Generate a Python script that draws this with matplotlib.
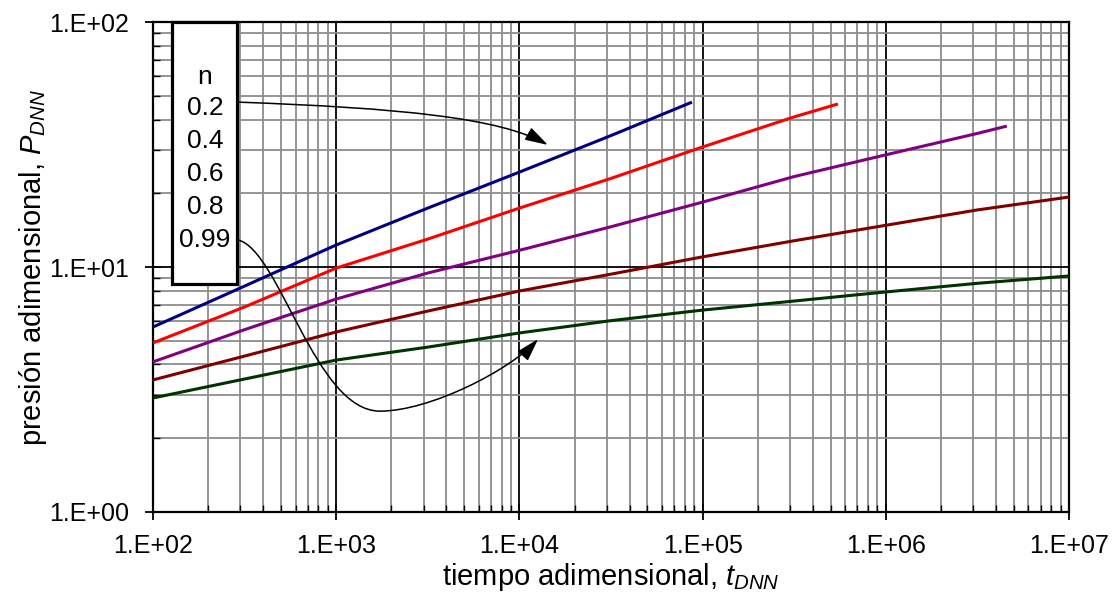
#!/usr/bin/env python3

import numpy as np
from matplotlib import pyplot as plt
from matplotlib.patches import FancyArrowPatch, Rectangle
from matplotlib.path import Path
from matplotlib.ticker import FuncFormatter, LogLocator, NullFormatter

plt.rcParams["font.family"] = ["Liberation Sans", "DejaVu Sans"]
plt.rcParams["mathtext.fontset"] = "custom"
plt.rcParams["mathtext.rm"] = "Liberation Sans"
plt.rcParams["mathtext.it"] = "Liberation Sans:italic"

# flow behaviour index of each curve
n_values = ["0.2", "0.4", "0.6", "0.8", "0.99"]
colors = ["#000080", "#ff0000", "#800080", "#800000", "#003300"]

# dimensionless time / pressure for each curve
t_02 = [1e2, 10**2.5, 1e3, 10**3.5, 1e4, 10**4.5, 8.75e4]
p_02 = [5.69, 8.36, 12.3, 17.4, 24.4, 34.4, 47.1]

t_04 = [1e2, 10**2.5, 1e3, 10**3.5, 1e4, 10**4.5, 1e5, 10**5.5, 5.48e5]
p_04 = [4.90, 6.87, 9.9, 13.0, 17.4, 23.0, 30.9, 41.0, 46.3]

t_06 = [1e2, 10**2.5, 1e3, 10**3.5, 1e4, 10**4.5, 1e5, 10**5.5, 1e6, 10**6.5, 4.58e6]
p_06 = [4.10, 5.55, 7.4, 9.45, 11.7, 14.6, 18.4, 23.4, 28.7, 35.1, 37.6]

t_08 = [1e2, 10**2.5, 1e3, 10**3.5, 1e4, 10**4.5, 1e5, 10**5.5, 1e6, 10**6.5, 1e7]
p_08 = [3.46, 4.33, 5.43, 6.61, 7.98, 9.35, 11.0, 12.8, 14.8, 17.1, 19.3]

t_099 = [1e2, 10**2.5, 1e3, 10**3.5, 1e4, 10**4.5, 1e5, 1e6, 10**6.5, 1e7]
p_099 = [2.92, 3.49, 4.17, 4.71, 5.38, 6.04, 6.67, 7.91, 8.58, 9.19]

curves = [(t_02, p_02), (t_04, p_04), (t_06, p_06), (t_08, p_08), (t_099, p_099)]

# leader lines (bezier vertices) from the labels to the first and last curve
leader_02 = [(291, 47.1), (2229, 44.6), (7834, 40.6), (1.43e4, 31.5)]
leader_099 = [(291, 12.9), (493, 11.7), (766, 2.58), (1734, 2.58),
              (3251, 2.58), (8892, 3.80), (1.265e4, 5.08)]


def leader(verts):
    codes = [Path.MOVETO] + [Path.CURVE4] * (len(verts) - 1)
    return FancyArrowPatch(path=Path(verts, codes),
                           arrowstyle="-|>,head_length=1.4,head_width=0.42",
                           mutation_scale=10, color="k", lw=1.1, zorder=6)


fig = plt.figure(figsize=(11.12, 5.97), dpi=100)
ax = fig.add_axes([0.1376, 0.1424, 0.8237, 0.8207])

for (t, p), c in zip(curves, colors):
    ax.plot(t, p, "-", color=c, lw=2.2, zorder=4, solid_capstyle="butt")

ax.set_xscale("log")
ax.set_yscale("log")
ax.set_xlim(1e2, 1e7)
ax.set_ylim(1, 100)

fmt = FuncFormatter(lambda v, pos: "1.E+%02d" % round(np.log10(v)))
for axis in (ax.xaxis, ax.yaxis):
    axis.set_major_locator(LogLocator(base=10))
    axis.set_minor_locator(LogLocator(base=10, subs=np.arange(2, 10)))
    axis.set_major_formatter(fmt)
    axis.set_minor_formatter(NullFormatter())

ax.grid(which="major", color="k", lw=1.3, zorder=1)
ax.grid(which="minor", color="#8c8c8c", lw=1.3, zorder=0)
ax.set_axisbelow(True)
ax.tick_params(which="major", direction="inout", length=12, width=1.3,
               labelsize=18, colors="k")
ax.tick_params(axis="x", which="major", pad=10)
ax.tick_params(axis="y", which="major", pad=11)
ax.tick_params(which="minor", direction="in", length=5, width=1.0)
for s in ax.spines.values():
    s.set_linewidth(1.6)

ax.set_xlabel("tiempo adimensional, $t_{DNN}$", fontsize=21, labelpad=2)
ax.set_ylabel("presión adimensional, $P_{DNN}$", fontsize=21, labelpad=0)

# label box with the n values
ax.add_patch(Rectangle((0.0207, 0.465), 0.071, 0.535, transform=ax.transAxes,
                       facecolor="white", edgecolor="k", lw=2.3, zorder=5,
                       clip_on=False))
ax.text(0.0568, 0.888, "n", transform=ax.transAxes, ha="center", va="center",
        fontsize=19, zorder=6)
for i, label in enumerate(n_values):
    ax.text(0.0568, 0.824 - i * 0.0672, label, transform=ax.transAxes,
            ha="center", va="center", fontsize=19, zorder=6)

ax.add_patch(leader(leader_02))
ax.add_patch(leader(leader_099))

plt.savefig("out.png", dpi=100)
